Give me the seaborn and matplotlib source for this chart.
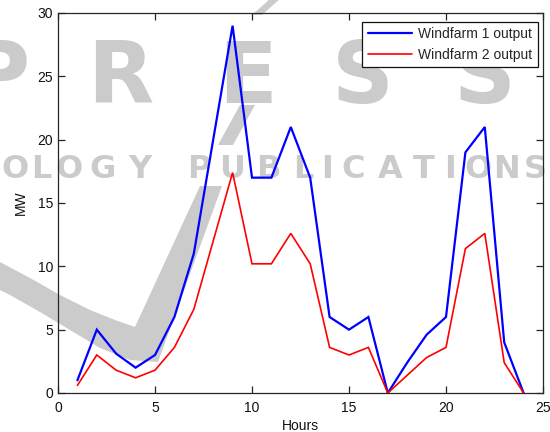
import matplotlib
matplotlib.use("Agg")
import matplotlib.pyplot as plt
from matplotlib.patches import Polygon
from matplotlib.lines import Line2D
import seaborn as sns
import pandas as pd

# Hourly output of the two wind farms (MW)
hours = list(range(1, 25))
windfarm1 = [1, 5, 3.1, 2, 3, 6, 11, 20, 29, 17, 17, 21,
             17, 6, 5, 6, 0, 2.4, 4.6, 6, 19, 21, 4, 0]
windfarm2 = [0.6, 3, 1.8, 1.2, 1.8, 3.6, 6.6, 12, 17.4, 10.2, 10.2, 12.6,
             10.2, 3.6, 3, 3.6, 0, 1.4, 2.8, 3.6, 11.4, 12.6, 2.4, 0]
series_names = ["Windfarm 1 output", "Windfarm 2 output"]
series_colors = ["#0000ff", "#ff0000"]
x_ticks = [0, 5, 10, 15, 20, 25]
y_ticks = [0, 5, 10, 15, 20, 25, 30]

df = pd.concat([
    pd.DataFrame({"Hours": hours, "MW": windfarm1, "series": series_names[0]}),
    pd.DataFrame({"Hours": hours, "MW": windfarm2, "series": series_names[1]}),
])

sns.set_theme(style="ticks")
plt.rcParams["font.family"] = ["Liberation Sans", "DejaVu Sans"]

W, H = 550, 432
fig = plt.figure(figsize=(5.5, 4.32), dpi=100, facecolor="white")
ax = fig.add_axes([58 / W, 1 - 393 / H, (543 - 58) / W, (393 - 13) / H])
ax.patch.set_alpha(0)

# Publisher watermark behind the plot
wm = "#cbcbcb"


def px(x, y):
    return (x / W, 1 - y / H)


for ch, cx in zip("PRESS", [-2, 120, 248, 363, 485]):
    fig.text(cx / W, 1 - 103 / H, ch, ha="center", va="baseline",
             fontsize=62, fontweight="bold", color=wm, zorder=-2,
             family="DejaVu Sans")
for ch, cx in zip("OLOGYPUBLICATIONS",
                  [15, 41, 69, 103, 140, 199, 232, 268, 303, 327, 353,
                   390, 424, 450, 478, 507, 535]):
    fig.text(cx / W, 1 - 178 / H, ch, ha="center", va="baseline",
             fontsize=23, fontweight="bold", color=wm, zorder=-2,
             family="DejaVu Sans")

shapes = [
    [(252, 15), (262, 15), (281, -2), (271, -2)],
    [(218, 145), (233, 145), (255, 105), (240, 105)],
    [(0, 262), (30, 278), (60, 295), (90, 310), (115, 320), (135, 327),
     (200, 186), (222, 186), (158, 362), (130, 360), (100, 348),
     (70, 330), (40, 312), (10, 295), (0, 290)],
]
for pts in shapes:
    fig.add_artist(Polygon([px(x, y) for x, y in pts], closed=True,
                           transform=fig.transFigure, facecolor=wm,
                           edgecolor="none", zorder=-2))

sns.lineplot(data=df, x="Hours", y="MW", hue="series",
             palette=dict(zip(series_names, series_colors)),
             ax=ax, legend=False, sort=False)
widths = [1.6, 1.2]
for line, lw in zip(ax.get_lines(), widths):
    line.set_linewidth(lw)
    line.set_solid_joinstyle("miter")

ax.set_xlim(0, 25)
ax.set_ylim(0, 30)
ax.set_xticks(x_ticks)
ax.set_yticks(y_ticks)
ax.set_xlabel("Hours", fontsize=10, labelpad=3, color="#111111")
ax.set_ylabel("MW", fontsize=10, labelpad=7, color="#111111")

for s in ax.spines.values():
    s.set_visible(True)
    s.set_color("#262626")
    s.set_linewidth(0.9)
ax.tick_params(direction="in", length=5, width=0.9, top=True, right=True,
               labelsize=10, colors="#262626", labelcolor="#111111")
ax.tick_params(axis="x", pad=5.5)
ax.tick_params(axis="y", pad=3.6)

handles = [Line2D([], [], color=c, lw=lw) for c, lw in zip(series_colors, widths)]
leg = ax.legend(handles, series_names, loc="upper right",
                bbox_to_anchor=((537.7 - 58) / 485, (393 - 21.7) / 380),
                borderaxespad=0, fancybox=False, framealpha=1,
                edgecolor="#111111", fontsize=10, handlelength=3.2,
                handletextpad=0.4, labelspacing=0.45, borderpad=0.4)
leg.get_frame().set_linewidth(0.9)

fig.savefig("out.png", dpi=100, facecolor="white")
